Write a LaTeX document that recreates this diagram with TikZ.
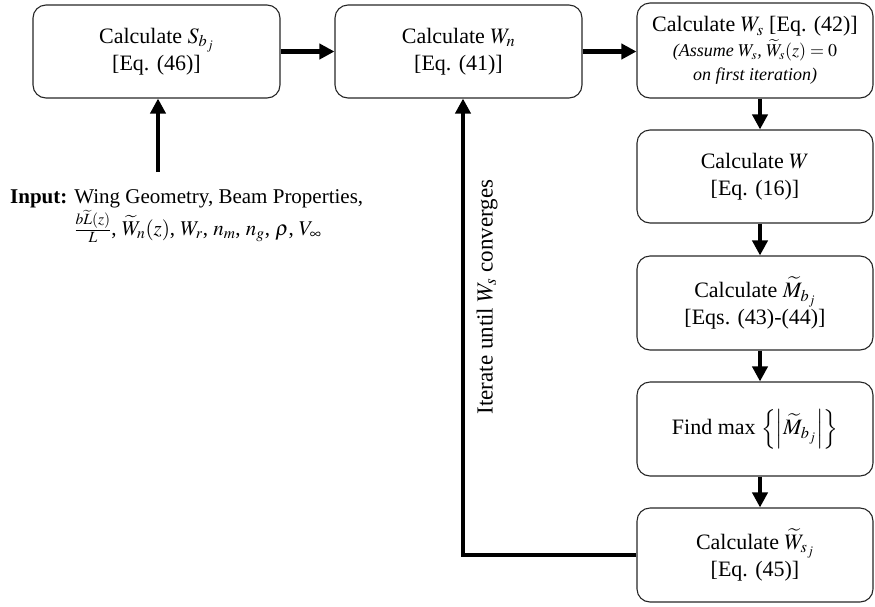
\documentclass[tikz,border=0pt]{standalone}
\usepackage{mathptmx}
\usepackage{fontspec}
\setmainfont{Liberation Serif}
\usetikzlibrary{arrows.meta}
\tikzset{
  box/.style={draw=black!85, line width=1.1pt, rounded corners=13pt, align=center,
    inner sep=0pt, font=\fontsize{22}{27}\selectfont},
  flow/.style={line width=4.5pt, -{Triangle[length=15pt,width=15pt]}},
}
\begin{document}
\begin{tikzpicture}[x=1pt,y=-1pt]
\useasboundingbox (0,0) rectangle (875,606);
\node[box, minimum width=247pt, minimum height=93pt] (sb) at (156.5,51.5)
  {Calculate $S_{b_j}$\\{}[Eq. (46)]};
\node[box, minimum width=247pt, minimum height=93pt] (wn) at (458.5,51.5)
  {Calculate $W_n$\\{}[Eq. (41)]};
\node[box, minimum width=236pt, minimum height=95pt] (ws) at (755,50.5)
  {Calculate $W_s$ [Eq. (42)]\\[-2pt]
   {\fontsize{18}{25}\selectfont\itshape (Assume $W_s$, $\widetilde{W}_s(z)=0$}\\[-3pt]
   {\fontsize{18}{25}\selectfont\itshape on first iteration)}};
\node[box, minimum width=236pt, minimum height=93pt] (w) at (755,176.5)
  {Calculate $W$\\{}[Eq. (16)]};
\node[box, minimum width=236pt, minimum height=94pt] (mb) at (755,303)
  {Calculate $\widetilde{M}_{b_j}$\\{}[Eqs. (43)-(44)]};
\node[box, minimum width=236pt, minimum height=94pt] (fm) at (755,429)
  {Find max $\left\{\left|\widetilde{M}_{b_j}\right|\right\}$};
\node[box, minimum width=236pt, minimum height=94pt] (wsj) at (755,555)
  {Calculate $\widetilde{W}_{s_j}$\\{}[Eq. (45)]};

\node[anchor=north west, inner sep=0pt, font=\fontsize{21}{30}\selectfont] (in) at (10,182)
  {\textbf{Input:} \begin{tabular}[t]{@{}l@{}}Wing Geometry, Beam Properties,\\[-2pt]
   $\frac{b\widetilde{L}(z)}{L}$, $\widetilde{W}_n(z)$, $W_r$, $n_m$, $n_g$, $\rho$, $V_\infty$\end{tabular}};
\coordinate (inTop) at (158,172);
\coordinate (fbCorner) at (463,555);

\node[rotate=90, inner sep=0pt, font=\fontsize{23}{27}\selectfont] (lab) at (487,297)
  {Iterate until $W_s$ converges};

\draw[flow] (sb.east) -- (wn.west);
\draw[flow] (wn.east) -- (wn.east -| ws.west);
\draw[flow] (inTop) -- (inTop |- sb.south);
\draw[flow] ([xshift=5pt]ws.south) -- ([xshift=5pt]w.north);
\draw[flow] ([xshift=5pt]w.south) -- ([xshift=5pt]mb.north);
\draw[flow] ([xshift=5pt]mb.south) -- ([xshift=5pt]fm.north);
\draw[flow] ([xshift=5pt]fm.south) -- ([xshift=5pt]wsj.north);
\draw[flow] (wsj.west) -- (fbCorner) -- (fbCorner |- wn.south);
\end{tikzpicture}
\end{document}
